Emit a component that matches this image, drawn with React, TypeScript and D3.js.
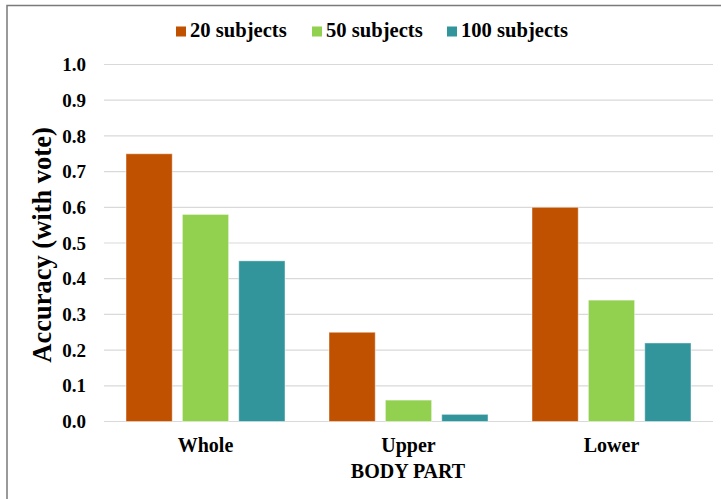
import React from "react";
import * as d3 from "d3";

const categories = ["Whole", "Upper", "Lower"];
const seriesNames = ["20 subjects", "50 subjects", "100 subjects"];
const values20 = [0.75, 0.25, 0.6];
const values50 = [0.58, 0.06, 0.34];
const values100 = [0.45, 0.02, 0.22];
const yTicks = [0, 0.1, 0.2, 0.3, 0.4, 0.5, 0.6, 0.7, 0.8, 0.9, 1.0];
const colors = ["#C05100", "#92D050", "#31959B"];

const seriesValues = [values20, values50, values100];

export default function App() {
  const W = 721;
  const H = 499;
  const font = "'Liberation Serif', 'Times New Roman', serif";
  const x0 = d3.scaleBand<string>().domain(categories).range([104, 713]).padding(0);
  const x1 = d3
    .scaleBand<string>()
    .domain(seriesNames)
    .range([22, 181])
    .paddingInner(0.18)
    .paddingOuter(0);
  const y = d3.scaleLinear().domain([0, 1]).range([421.5, 64.5]);

  const legendX = [176, 312, 447];

  return (
    <svg
      width={W}
      height={H}
      style={{ position: "absolute", left: 0, top: 0, background: "#fff" }}
    >
      <rect x={0} y={0} width={W} height={H} fill="#fff" />
      <rect x={7} y={5.5} width={W + 20} height={H + 20} fill="none" stroke="#7a7a7a" strokeWidth={1.5} />
      {yTicks.map((t) => (
        <g key={t}>
          <line x1={104} x2={713} y1={y(t)} y2={y(t)} stroke="#d9d9d9" strokeWidth={1.2} />
          <text
            x={86}
            y={y(t)}
            dy="0.35em"
            textAnchor="end"
            fontFamily={font}
            fontWeight="bold"
            fontSize={19}
            fill="#000"
          >
            {t.toFixed(1)}
          </text>
        </g>
      ))}
      {categories.map((c, ci) => (
        <g key={c} transform={`translate(${x0(c)},0)`}>
          {seriesNames.map((s, si) => {
            const v = seriesValues[si][ci];
            return (
              <rect
                key={s}
                x={x1(s)}
                y={y(v)}
                width={x1.bandwidth()}
                height={y(0) - y(v)}
                fill={colors[si]}
                stroke="rgba(255,255,255,0.45)"
                strokeWidth={1}
              />
            );
          })}
          <text
            x={x0.bandwidth() / 2}
            y={452}
            textAnchor="middle"
            fontFamily={font}
            fontWeight="bold"
            fontSize={20}
            fill="#000"
          >
            {c}
          </text>
        </g>
      ))}
      <text
        x={408}
        y={478}
        textAnchor="middle"
        fontFamily={font}
        fontWeight="bold"
        fontSize={20}
        fill="#000"
      >
        BODY PART
      </text>
      <text
        transform={`translate(51,245) rotate(-90)`}
        textAnchor="middle"
        fontFamily={font}
        fontWeight="bold"
        fontSize={26.5}
        fill="#000"
      >
        Accuracy (with vote)
      </text>
      {seriesNames.map((s, i) => (
        <g key={s}>
          <rect x={legendX[i]} y={26.5} width={10} height={10} fill={colors[i]} />
          <text
            x={legendX[i] + 14}
            y={36.5}
            fontFamily={font}
            fontWeight="bold"
            fontSize={20.6}
            fill="#000"
          >
            {s}
          </text>
        </g>
      ))}
    </svg>
  );
}
